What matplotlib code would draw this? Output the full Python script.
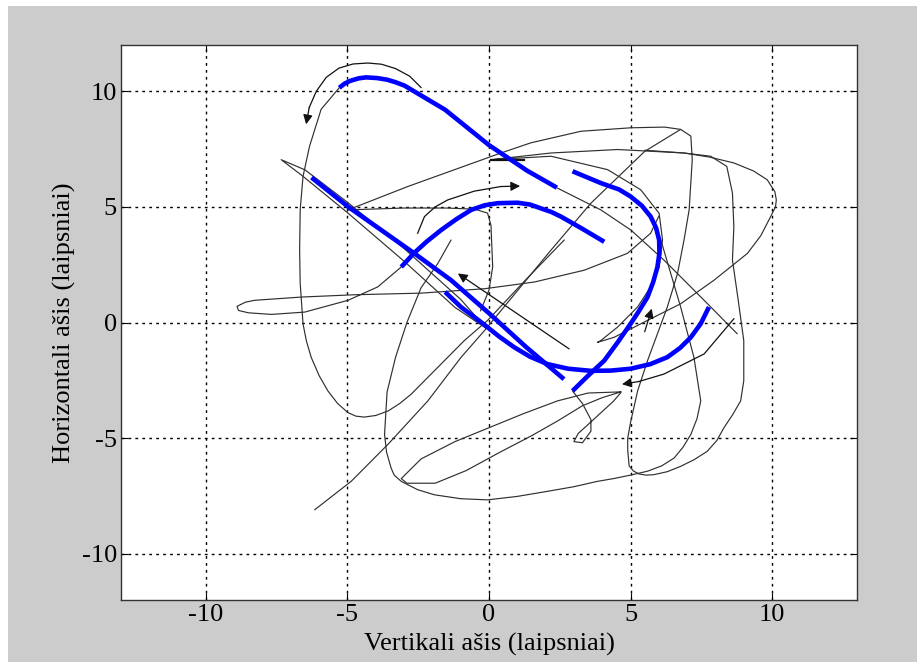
import matplotlib
matplotlib.use('Agg')
import matplotlib.pyplot as plt
from matplotlib.patches import Rectangle

plt.rcParams['font.family'] = ['Liberation Serif', 'DejaVu Serif']
plt.rcParams['axes.unicode_minus'] = False

# highlighted parts of the eye trajectory (degrees)
blue1_x = [-5.29, -5.1, -4.9, -4.6, -4.34, -3.95, -3.6, -3.3, -2.98, -1.55, 0.0, 1.34, 2.4]
blue1_y = [10.15, 10.33, 10.45, 10.56, 10.6, 10.57, 10.5, 10.39, 10.24, 9.2, 7.67, 6.57, 5.83]
blue2_x = [-6.27, -4.97, -2.65, -1.34, 0.0, 1.3, 2.65]
blue2_y = [6.27, 5.0, 3.0, 1.83, 0.4, -1.05, -2.45]
blue3_x = [-1.55, -0.99, -0.2, 0.35, 0.89, 1.45, 2.07, 2.8, 3.6, 4.3, 5.0, 5.7, 6.3, 6.75,
           7.13, 7.48, 7.77]
blue3_y = [1.32, 0.67, -0.06, -0.6, -1.07, -1.48, -1.8, -2.0, -2.09, -2.08, -2.0, -1.8, -1.5,
           -1.1, -0.64, -0.05, 0.67]
blue4_x = [-3.1, -2.65, -2.2, -1.69, -1.15, -0.63, -0.15, 0.31, 1.01, 1.45, 1.8, 2.2, 2.54,
           3.3, 4.07]
blue4_y = [2.4, 3.0, 3.5, 4.0, 4.47, 4.87, 5.07, 5.16, 5.18, 5.1, 4.95, 4.78, 4.58, 4.05, 3.49]
blue5_x = [2.95, 3.95, 4.6, 5.0, 5.4, 5.71, 5.9, 6.01, 6.02, 5.95, 5.8, 5.6, 5.3, 5.0, 4.55,
           4.07, 3.5, 2.95]
blue5_y = [6.54, 6.03, 5.75, 5.45, 5.05, 4.58, 4.1, 3.57, 3.0, 2.4, 1.75, 1.1, 0.5, -0.06,
           -0.85, -1.65, -2.3, -2.96]

# full trajectory, piece by piece
loop_x = [-5.29, -5.93, -6.34, -6.57, -6.67, -6.69, -6.67, -6.57, -6.45, -6.28, -6.0, -5.69,
          -5.35, -4.98, -4.7, -4.4, -4.0, -3.57, -3.15, -2.75, -1.81, -0.87, -0.05, 1.3, 2.66]
loop_y = [10.15, 9.22, 7.62, 6.32, 4.87, 3.13, 1.7, -0.06, -0.8, -1.51, -2.3, -2.96,
          -3.5, -3.9, -4.05, -4.09, -4.02, -3.83, -3.5, -3.1, -1.94, -0.78, 0.09, 1.85, 3.57]
tail_x = [-3.1, -3.93, -4.98, -6.51, -7.69, -8.5, -8.85, -8.9, -8.6, -8.28, -6.63, -4.75,
          -2.4, -0.16, 1.6, 3.36, 4.89, 5.71, 6.0]
tail_y = [2.4, 1.54, 0.96, 0.45, 0.35, 0.42, 0.52, 0.7, 0.88, 0.96, 1.1, 1.2,
          1.27, 1.46, 1.75, 2.26, 2.99, 3.86, 4.6]
rim_x = [0.07, 2.19, 4.19, 5.36, 6.01, 6.13, 6.01, 5.71, 5.25, 4.54, 3.95, 3.83, 4.42, 5.6,
         6.77, 7.95, 9.13, 9.6, 9.95, 10.12, 10.15, 10.1, 9.83, 9.35, 8.65, 7.8, 6.89, 4.54,
         2.19, 0.07]
rim_y = [7.04, 7.19, 6.61, 5.74, 4.72, 3.57, 2.4, 1.54, 0.67, -0.2, -0.78, -0.86, -0.64, 0.09,
         0.81, 1.83, 2.99, 3.75, 4.58, 5.0, 5.3, 5.65, 6.17, 6.55, 6.9, 7.15, 7.33, 7.48,
         7.33, 7.04]
cusp_x = [-4.98, -2.87, 0.42, 1.48, 3.25, 5.01, 6.2, 6.77, 7.13, 7.18, 7.07, 6.89, 6.66, 6.3,
          5.95, 5.6, 5.25, 5.01, 4.9, 4.9, 4.95, 5.1, 5.3, 5.55, 5.83, 6.3, 6.77, 7.25, 7.71,
          8.05, 8.3, 8.6, 8.89, 9.0, 9.0, 8.8, 8.6, 8.65, 8.6, 8.4, 7.83, 6.89, 5.5]
cusp_y = [4.87, 5.88, 7.33, 7.77, 8.27, 8.42, 8.45, 8.35, 8.06, 7.04, 4.87, 3.57, 2.12, 0.67,
          -0.49, -1.65, -2.96, -4.26, -5.0, -5.5, -6.2, -6.42, -6.55, -6.6, -6.58, -6.45, -6.22,
          -5.93, -5.57, -5.1, -4.55, -4.0, -3.39, -2.52, -0.78, 1.0, 2.7, 4.14, 5.6, 6.75, 7.19,
          7.33, 7.45]
flat_x = [-4.98, -3.0, -1.5, -0.5, -0.05, 0.07, 0.13, 0.0, -0.3]
flat_y = [4.87, 4.95, 4.95, 4.9, 4.73, 4.2, 2.4, 1.4, 0.5]
needle_x = [-0.1, -1.0, -3.0, -5.0, -6.5, -7.34, -6.6, -5.0, -3.0, -1.2, -0.1]
needle_y = [-0.25, 1.0, 3.2, 5.2, 6.6, 7.04, 6.35, 4.75, 2.65, 0.65, -0.25]
diag_x = [-6.16, -4.87, -3.57, -2.16, -0.99, -0.16, 2.19, 3.6, 5.5, 6.77]
diag_y = [-8.1, -6.87, -5.27, -3.39, -1.51, -0.35, 3.13, 5.16, 7.4, 8.35]
bottom_x = [6.07, 6.77, 7.24, 7.48, 7.35, 7.13, 6.85, 6.54, 6.1, 5.6, 5.0, 4.4, 3.83, 3.0,
            2.07, 1.0, -0.05, -1.0, -1.93, -2.52, -3.1, -3.35, -3.46, -3.62, -3.69, -3.6,
            -3.3, -2.9, -2.4, -1.81, -1.34]
bottom_y = [3.57, 0.67, -1.51, -3.39, -4.15, -4.84, -5.4, -5.86, -6.2, -6.43, -6.6, -6.75,
            -6.87, -7.1, -7.3, -7.52, -7.67, -7.62, -7.45, -7.23, -6.87, -6.6, -6.29, -5.6,
            -4.84, -3.0, -1.5, 0.0, 1.5, 2.55, 3.57]
lowloop_x = [4.66, 3.5, 2.42, 1.2, 0.0, -1.2, -2.4, -3.1, -2.9, -1.9, -0.8, 0.4, 1.5, 2.42,
             3.3, 4.0, 4.66]
lowloop_y = [-3.0, -3.05, -3.39, -3.95, -4.55, -5.15, -5.9, -6.75, -6.95, -6.95, -6.4, -5.6,
             -4.9, -4.26, -3.6, -3.25, -3.0]
curl_x = [2.95, 3.3, 3.6, 3.6, 3.3, 3.0, 3.15, 3.6, 4.4, 4.66]
curl_y = [-2.96, -3.5, -4.2, -4.7, -5.2, -5.15, -4.8, -4.3, -3.4, -3.03]
slant_x = [2.42, 3.95, 5.01, 6.18, 7.6, 8.77]
slant_y = [5.81, 4.87, 4.0, 2.7, 0.96, -0.49]
stub_x = [0.07, 1.23]
stub_y = [7.04, 7.04]

# direction arrows
arr1_x = [-2.4, -2.8, -3.3, -3.8, -4.28, -4.8, -5.3, -5.75, -6.1, -6.35, -6.46]
arr1_y = [10.16, 10.65, 10.98, 11.17, 11.22, 11.18, 11.0, 10.6, 10.0, 9.3, 8.57]
arr2_x = [-2.52, -2.28, -1.9, -1.46, -0.52, 0.42, 1.1]
arr2_y = [3.86, 4.58, 5.0, 5.3, 5.68, 5.88, 5.9]
arr3_x = [2.83, -1.1]
arr3_y = [-1.14, 2.12]
arr4_x = [5.5, 5.75]
arr4_y = [-0.4, 0.6]
arr5_x = [8.65, 7.6, 6.18, 5.3, 4.7]
arr5_y = [0.16, -1.36, -2.23, -2.55, -2.67]

fig = plt.figure(figsize=(9.17, 6.62), dpi=100)
fig.patch.set_facecolor('white')
fig.patches.append(Rectangle((8 / 917, 0), 1, (662 - 6) / 662, transform=fig.transFigure,
                             facecolor='#cccccc', edgecolor='none', zorder=-10))
ax = fig.add_axes([121 / 917, 62 / 662, 736 / 917, 555 / 662])
ax.set_facecolor('white')

thin = dict(color='#303030', lw=0.85, solid_joinstyle='round', solid_capstyle='round')
for xs, ys in [(loop_x, loop_y), (tail_x, tail_y), (rim_x, rim_y), (cusp_x, cusp_y),
               (flat_x, flat_y), (needle_x, needle_y), (diag_x, diag_y), (bottom_x, bottom_y),
               (lowloop_x, lowloop_y), (curl_x, curl_y), (slant_x, slant_y)]:
    ax.plot(xs, ys, **thin)
ax.plot(stub_x, stub_y, color='#111111', lw=1.6)

for xs, ys in [(blue1_x, blue1_y), (blue2_x, blue2_y), (blue3_x, blue3_y),
               (blue4_x, blue4_y), (blue5_x, blue5_y)]:
    ax.plot(xs, ys, color='#0000ff', lw=3.3, solid_capstyle='butt',
            solid_joinstyle='round', zorder=3)

for xs, ys in [(arr1_x, arr1_y), (arr2_x, arr2_y), (arr3_x, arr3_y), (arr4_x, arr4_y),
               (arr5_x, arr5_y)]:
    ax.plot(xs[:-1], ys[:-1], color='#111111', lw=0.9, zorder=4)
    ax.annotate('', xy=(xs[-1], ys[-1]), xytext=(xs[-2], ys[-2]),
                arrowprops=dict(arrowstyle='-|>', color='#111111', lw=0.9,
                                mutation_scale=14, shrinkA=0, shrinkB=0), zorder=4)

ax.set_xlim(-13, 13)
ax.set_ylim(-12, 12)
ax.set_xticks([-10, -5, 0, 5, 10])
ax.set_yticks([-10, -5, 0, 5, 10])
ax.grid(True, color='black', linestyle=(0, (2, 3)), linewidth=1.0)
ax.tick_params(direction='in', length=5, labelsize=19, top=True, right=True, pad=3)
for s in ax.spines.values():
    s.set_linewidth(1.0)
    s.set_color('#333333')
ax.set_xlabel('Vertikali ašis (laipsniai)', fontsize=19, labelpad=5)
ax.set_ylabel('Horizontali ašis (laipsniai)', fontsize=19, labelpad=4)

fig.savefig('out.png', dpi=100)
